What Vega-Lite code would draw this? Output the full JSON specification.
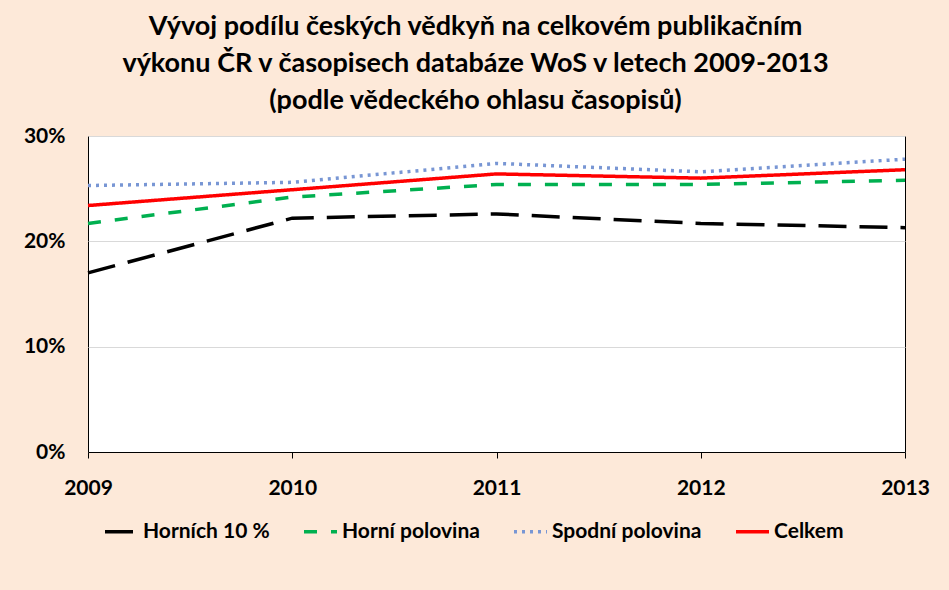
{
  "$schema": "https://vega.github.io/schema/vega-lite/v6.json",
  "autosize": "none",
  "width": 817,
  "height": 316,
  "padding": {"left": 88, "top": 136, "right": 44, "bottom": 138},
  "background": "#FDE9D9",
  "config": {
    "view": {"stroke": "#000000", "strokeWidth": 1, "fill": "#FFFFFF"},
    "font": "Lato"
  },
  "title": {
    "text": ["Vývoj podílu českých vědkyň na celkovém publikačním", "výkonu  ČR v časopisech databáze WoS v letech 2009-2013", "(podle vědeckého ohlasu časopisů)"],
    "font": "Lato",
    "fontSize": 27,
    "fontWeight": "bold",
    "color": "#000000",
    "lineHeight": 37,
    "anchor": "middle",
    "dx": -21,
    "offset": 10
  },
  "data": {
    "values": [
      {"year": 2009, "series": "Horních 10 %", "value": 0.170},
      {"year": 2010, "series": "Horních 10 %", "value": 0.222},
      {"year": 2011, "series": "Horních 10 %", "value": 0.226},
      {"year": 2012, "series": "Horních 10 %", "value": 0.217},
      {"year": 2013, "series": "Horních 10 %", "value": 0.213},
      {"year": 2009, "series": "Horní polovina", "value": 0.217},
      {"year": 2010, "series": "Horní polovina", "value": 0.242},
      {"year": 2011, "series": "Horní polovina", "value": 0.254},
      {"year": 2012, "series": "Horní polovina", "value": 0.254},
      {"year": 2013, "series": "Horní polovina", "value": 0.258},
      {"year": 2009, "series": "Spodní polovina", "value": 0.253},
      {"year": 2010, "series": "Spodní polovina", "value": 0.256},
      {"year": 2011, "series": "Spodní polovina", "value": 0.274},
      {"year": 2012, "series": "Spodní polovina", "value": 0.266},
      {"year": 2013, "series": "Spodní polovina", "value": 0.278},
      {"year": 2009, "series": "Celkem", "value": 0.234},
      {"year": 2010, "series": "Celkem", "value": 0.249},
      {"year": 2011, "series": "Celkem", "value": 0.264},
      {"year": 2012, "series": "Celkem", "value": 0.260},
      {"year": 2013, "series": "Celkem", "value": 0.268}
    ]
  },
  "mark": {"type": "line", "strokeCap": "butt"},
  "encoding": {
    "x": {
      "field": "year",
      "type": "quantitative",
      "scale": {"domain": [2009, 2013], "nice": false, "zero": false},
      "axis": {
        "title": null,
        "values": [2009, 2010, 2011, 2012, 2013],
        "format": "d",
        "labelFont": "Lato",
        "labelFontSize": 21,
        "labelFontWeight": "bold",
        "labelColor": "#000000",
        "labelFlush": false,
        "labelPadding": 19,
        "tickColor": "#000000",
        "tickSize": 6,
        "domainColor": "#000000",
        "grid": false
      }
    },
    "y": {
      "field": "value",
      "type": "quantitative",
      "scale": {"domain": [0, 0.3], "nice": false},
      "axis": {
        "title": null,
        "values": [0, 0.1, 0.2, 0.3],
        "format": ".0%",
        "labelFont": "Lato",
        "labelFontSize": 21,
        "labelFontWeight": "bold",
        "labelColor": "#000000",
        "labelPadding": 23,
        "ticks": false,
        "domain": false,
        "grid": true,
        "gridColor": "#D9D9D9",
        "gridWidth": 1
      }
    },
    "color": {
      "field": "series",
      "type": "nominal",
      "scale": {
        "domain": ["Horních 10 %", "Horní polovina", "Spodní polovina", "Celkem"],
        "range": ["#000000", "#00B050", "#7896D4", "#FF0000"]
      },
      "legend": {
        "title": null,
        "orient": "none",
        "direction": "horizontal",
        "legendX": 15,
        "legendY": 377,
        "symbolType": "stroke",
        "symbolSize": 1089,
        "labelFont": "Lato",
        "labelFontSize": 21,
        "labelFontWeight": "bold",
        "labelColor": "#000000",
        "labelOffset": 3,
        "columnPadding": 27,
        "labelLimit": 300
      }
    },
    "strokeDash": {
      "field": "series",
      "type": "nominal",
      "scale": {
        "domain": ["Horních 10 %", "Horní polovina", "Spodní polovina", "Celkem"],
        "range": [[28, 13], [13, 14], [3, 5], [1, 0]]
      }
    },
    "strokeWidth": {
      "field": "series",
      "type": "nominal",
      "scale": {
        "domain": ["Horních 10 %", "Horní polovina", "Spodní polovina", "Celkem"],
        "range": [3.5, 3.5, 3, 6]
      }
    }
  }
}
